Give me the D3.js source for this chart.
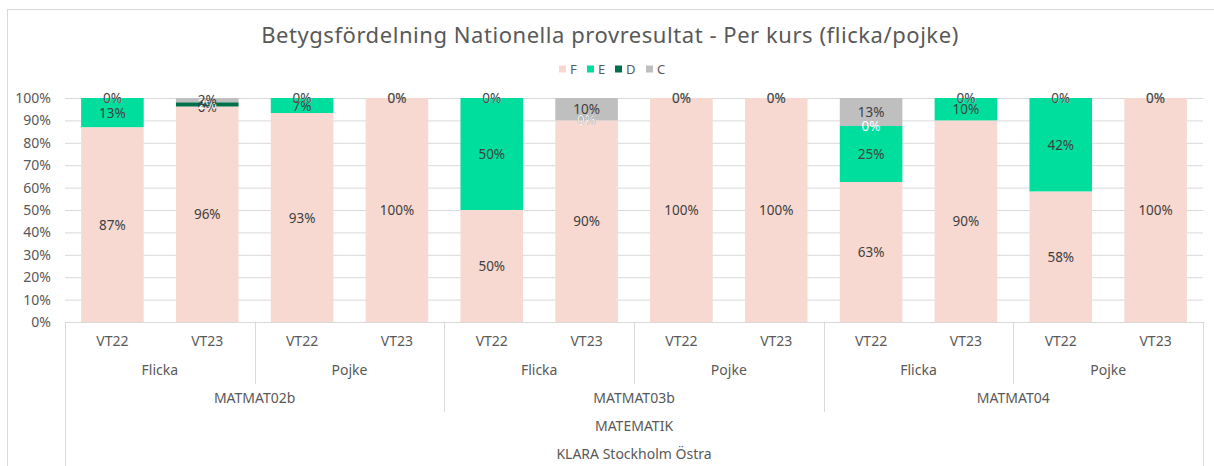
<!DOCTYPE html>
<html lang="sv">

<head>
    <meta charset="UTF-8">
    <title>Betygsfördelning</title>
    <style>
        body {
            margin: 0;
            background: #fff;
            font-family: "Noto Sans", "DejaVu Sans", sans-serif;
        }
    </style>
</head>

<body>

    <!-- Load d3.js -->
    <script src="https://d3js.org/d3.v7.min.js"></script>

    <div id="chart"></div>
    <script>
        // labels of the category levels
        var courses = ["MATMAT02b", "MATMAT03b", "MATMAT04"];
        var genders = ["Flicka", "Pojke"];
        var terms = ["VT22", "VT23"];
        var subject = "MATEMATIK";
        var school = "KLARA Stockholm Östra";

        // grade series, one value per bar (course > gender > term)
        var grades = ["F", "E", "D", "C"];
        var valuesF = [87, 96.2, 93.3, 100, 50, 90, 100, 100, 62.5, 90, 58.3, 100];
        var valuesE = [13, 0, 6.7, 0, 50, 0, 0, 0, 25, 10, 41.7, 0];
        var valuesD = [0, 1.9, 0, 0, 0, 0, 0, 0, 0, 0, 0, 0];
        var valuesC = [0, 1.9, 0, 0, 0, 10, 0, 0, 12.5, 0, 0, 0];

        var yTicks = [0, 10, 20, 30, 40, 50, 60, 70, 80, 90, 100];

        var colors = { F: "#F7D9D1", E: "#00DE9E", D: "#00704A", C: "#BFBFBF" };
        var labelColors = { F: "#404040", E: "#404040", D: "#FFFFFF", C: "#404040" };

        // set the dimensions and margins of the graph
        var W = 1214, H = 466;
        var margin = { top: 98, right: 11, bottom: 144, left: 65 },
            width = W - margin.left - margin.right,
            height = H - margin.top - margin.bottom;

        var svg = d3.select("#chart")
            .append("svg")
            .attr("width", W)
            .attr("height", H);

        // chart border
        svg.append("rect")
            .attr("x", 7.5).attr("y", 9.5)
            .attr("width", W + 10).attr("height", H + 10)
            .attr("fill", "none")
            .attr("stroke", "#D9D9D9");

        // title
        svg.append("text")
            .attr("x", 610).attr("y", 43)
            .attr("text-anchor", "middle")
            .attr("fill", "#595959")
            .style("font-size", "22px")
            .style("letter-spacing", "0.55px")
            .text("Betygsfördelning Nationella provresultat - Per kurs (flicka/pojke)");

        // legend
        var legendX = { F: 559, E: 587, D: 615, C: 646 };
        var legend = svg.append("g");
        grades.forEach(function (g) {
            legend.append("rect")
                .attr("x", legendX[g]).attr("y", 65.5)
                .attr("width", 7).attr("height", 7)
                .attr("fill", colors[g]);
            legend.append("text")
                .attr("x", legendX[g] + 11).attr("y", 74)
                .attr("fill", "#595959")
                .style("font-size", "13px")
                .text(g);
        });

        var g = svg.append("g")
            .attr("transform", "translate(" + margin.left + "," + margin.top + ")");

        // categories built from the levels
        var cats = [];
        courses.forEach(function (c) {
            genders.forEach(function (s) {
                terms.forEach(function (t) { cats.push(c + "|" + s + "|" + t); });
            });
        });

        var x = d3.scaleBand()
            .range([0, width])
            .domain(cats)
            .paddingInner(0.34)
            .paddingOuter(0.17);
        var step = x.step();

        var y = d3.scaleLinear()
            .domain([0, 100])
            .range([height, 0]);

        // gridlines
        g.append("g")
            .selectAll("line")
            .data(yTicks)
            .enter()
            .append("line")
            .attr("x1", 0).attr("x2", width)
            .attr("y1", function (d) { return y(d) + 0.5; })
            .attr("y2", function (d) { return y(d) + 0.5; })
            .attr("stroke", "#D9D9D9");

        // y axis
        var yAxis = g.append("g")
            .call(d3.axisLeft(y).tickValues(yTicks).tickSize(0).tickPadding(14)
                .tickFormat(function (d) { return d + "%"; }));
        yAxis.select(".domain").remove();
        yAxis.selectAll("text")
            .attr("fill", "#595959")
            .style("font-size", "14px")
            .style("font-family", "Noto Sans");

        // stacked data
        var rows = cats.map(function (c, i) {
            return { key: c, F: valuesF[i], E: valuesE[i], D: valuesD[i], C: valuesC[i] };
        });
        var stack = d3.stack().keys(grades)(rows);

        g.append("g")
            .selectAll("g")
            .data(stack)
            .enter()
            .append("g")
            .attr("fill", function (d) { return colors[d.key]; })
            .selectAll("rect")
            .data(function (d) { return d; })
            .enter()
            .append("rect")
            .attr("x", function (d) { return x(d.data.key); })
            .attr("y", function (d) { return y(d[1]); })
            .attr("width", x.bandwidth())
            .attr("height", function (d) { return y(d[0]) - y(d[1]); });

        // data labels
        stack.forEach(function (s) {
            g.append("g")
                .selectAll("text")
                .data(s)
                .enter()
                .append("text")
                .attr("x", function (d) { return x(d.data.key) + x.bandwidth() / 2; })
                .attr("y", function (d) { return y((d[0] + d[1]) / 2) + 5; })
                .attr("text-anchor", "middle")
                .attr("fill", labelColors[s.key])
                .style("font-size", "13.5px")
                .text(function (d) { return Math.round(d[1] - d[0]) + "%"; });
        });

        // multi-level category axis
        var axisCol = "#D9D9D9";
        var ax = g.append("g").attr("transform", "translate(0," + height + ")");
        var rowY = [19, 48, 76, 104, 132];   // label centres per level
        var rowEnd = [34, 62, 90, 118, 160];  // bottom of each level

        function line(x0, y0, y1) {
            ax.append("line")
                .attr("x1", x0).attr("x2", x0)
                .attr("y1", y0).attr("y2", y1)
                .attr("stroke", axisCol);
        }
        function label(cx, cy, t) {
            ax.append("text")
                .attr("x", cx).attr("y", cy + 5)
                .attr("text-anchor", "middle")
                .attr("fill", "#595959")
                .style("font-size", "14px")
                .text(t);
        }

        ax.append("line")
            .attr("x1", 0).attr("x2", width)
            .attr("y1", 0.5).attr("y2", 0.5)
            .attr("stroke", axisCol);
        line(0.5, 0, rowEnd[4]);
        line(width + 0.5, 0, rowEnd[4]);

        var nG = terms.length, nC = genders.length * terms.length;
        cats.forEach(function (c, i) {
            var parts = c.split("|");
            label(x(c) + x.bandwidth() / 2, rowY[0], parts[2]);
            var left = Math.round(x(c) - step * x.paddingInner() / 2) + 0.5;
            if (i > 0 && i % nC === 0) line(left, 0, rowEnd[2]);
            else if (i > 0 && i % nG === 0) line(left, 0, rowEnd[1]);
            if (i % nG === 0) label(x(c) - step * 0.17 + step * nG / 2, rowY[1], parts[1]);
            if (i % nC === 0) label(x(c) - step * 0.17 + step * nC / 2, rowY[2], parts[0]);
        });
        label(width / 2, rowY[3], subject);
        label(width / 2, rowY[4], school);
    </script>
</body>

</html>
